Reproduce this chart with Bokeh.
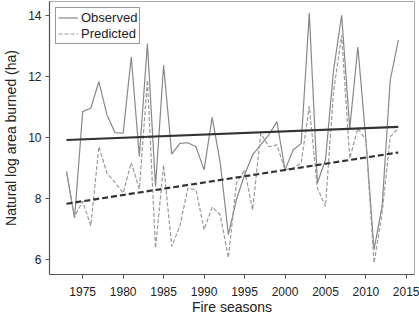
from bokeh.plotting import figure
from bokeh.models import Range1d, Legend, LegendItem, FixedTicker
from bokeh.embed import file_html
from bokeh.resources import INLINE

years = list(range(1973, 2015))
observed = [8.88, 7.35, 10.84, 10.95, 11.82, 10.73, 10.15, 10.13, 12.63, 9.37,
            13.07, 8.39, 12.36, 9.45, 9.80, 9.82, 9.69, 8.93, 10.65, 9.15,
            6.81, 7.95, 8.77, 9.42, 9.75, 10.08, 10.51, 8.93, 9.58, 9.80,
            14.07, 8.50, 9.26, 12.20, 14.00, 10.29, 12.96, 9.91, 6.32, 7.73,
            11.87, 13.18]
predicted = [8.85, 7.40, 7.90, 7.10, 9.69, 8.82, 8.52, 8.17, 9.17, 8.30,
             11.87, 6.37, 9.09, 6.42, 7.08, 8.33, 8.28, 6.97, 7.71, 7.46,
             6.05, 8.50, 8.93, 7.62, 10.13, 9.69, 9.75, 8.93, 8.99, 9.15,
             11.02, 8.33, 7.73, 11.50, 13.34, 9.31, 10.29, 9.91, 5.88, 7.52,
             10.02, 10.29]
trend_years = [1973, 2014]
obs_trend = [9.91, 10.34]
pred_trend = [7.82, 9.50]
x_ticks = [1975, 1980, 1985, 1990, 1995, 2000, 2005, 2010, 2015]
y_ticks = [6, 8, 10, 12, 14]
x_title = "Fire seasons"
y_title = "Natural log area burned (ha)"

FONT = "Liberation Sans"

p = figure(width=419, height=317, output_backend="svg", toolbar_location=None,
           x_range=Range1d(1970.9, 2016.0), y_range=Range1d(5.5, 14.45),
           min_border_left=44, min_border_right=5, min_border_top=1,
           min_border_bottom=42)
p.background_fill_color = "white"
p.border_fill_color = "white"
p.outline_line_color = "#aaaaaa"
p.outline_line_width = 1
p.xgrid.visible = False
p.ygrid.visible = False

r_obs = p.line(years, observed, line_color="#888888", line_width=1.2)
r_pred = p.line(years, predicted, line_color="#9a9a9a", line_width=1.2,
                line_dash="4 2")
p.line(trend_years, obs_trend, line_color="#333333", line_width=2.2)
p.line(trend_years, pred_trend, line_color="#333333", line_width=2.2,
       line_dash="6 3")

for ax in (p.xaxis[0], p.yaxis[0]):
    ax.axis_line_color = "#555555"
    ax.axis_line_width = 1.2
    ax.major_tick_line_color = "#555555"
    ax.major_tick_out = 4
    ax.major_tick_in = 0
    ax.minor_tick_line_color = None
    ax.major_label_text_font = FONT
    ax.major_label_text_font_size = "12px"
    ax.major_label_text_color = "#222222"
    ax.axis_label_text_font = FONT
    ax.axis_label_text_font_size = "14px"
    ax.axis_label_text_font_style = "normal"
    ax.axis_label_text_color = "#222222"

p.xaxis[0].ticker = FixedTicker(ticks=x_ticks)
p.yaxis[0].ticker = FixedTicker(ticks=y_ticks)
p.xaxis[0].axis_label = x_title
p.yaxis[0].axis_label = y_title
p.xaxis[0].major_label_standoff = 8
p.xaxis[0].axis_label_standoff = 0
p.yaxis[0].major_label_standoff = 4
p.yaxis[0].axis_label_standoff = 6

legend = Legend(items=[LegendItem(label="Observed", renderers=[r_obs]),
                       LegendItem(label="Predicted", renderers=[r_pred])],
                location="top_left", margin=6, padding=2, spacing=1,
                glyph_width=20, glyph_height=15, label_height=15,
                label_standoff=3,
                label_text_font=FONT, label_text_font_size="13px",
                label_text_color="#222222",
                border_line_color="#333333", border_line_width=1,
                background_fill_alpha=1.0)
p.add_layout(legend)

open("out.html", "w").write(file_html(p, INLINE))
